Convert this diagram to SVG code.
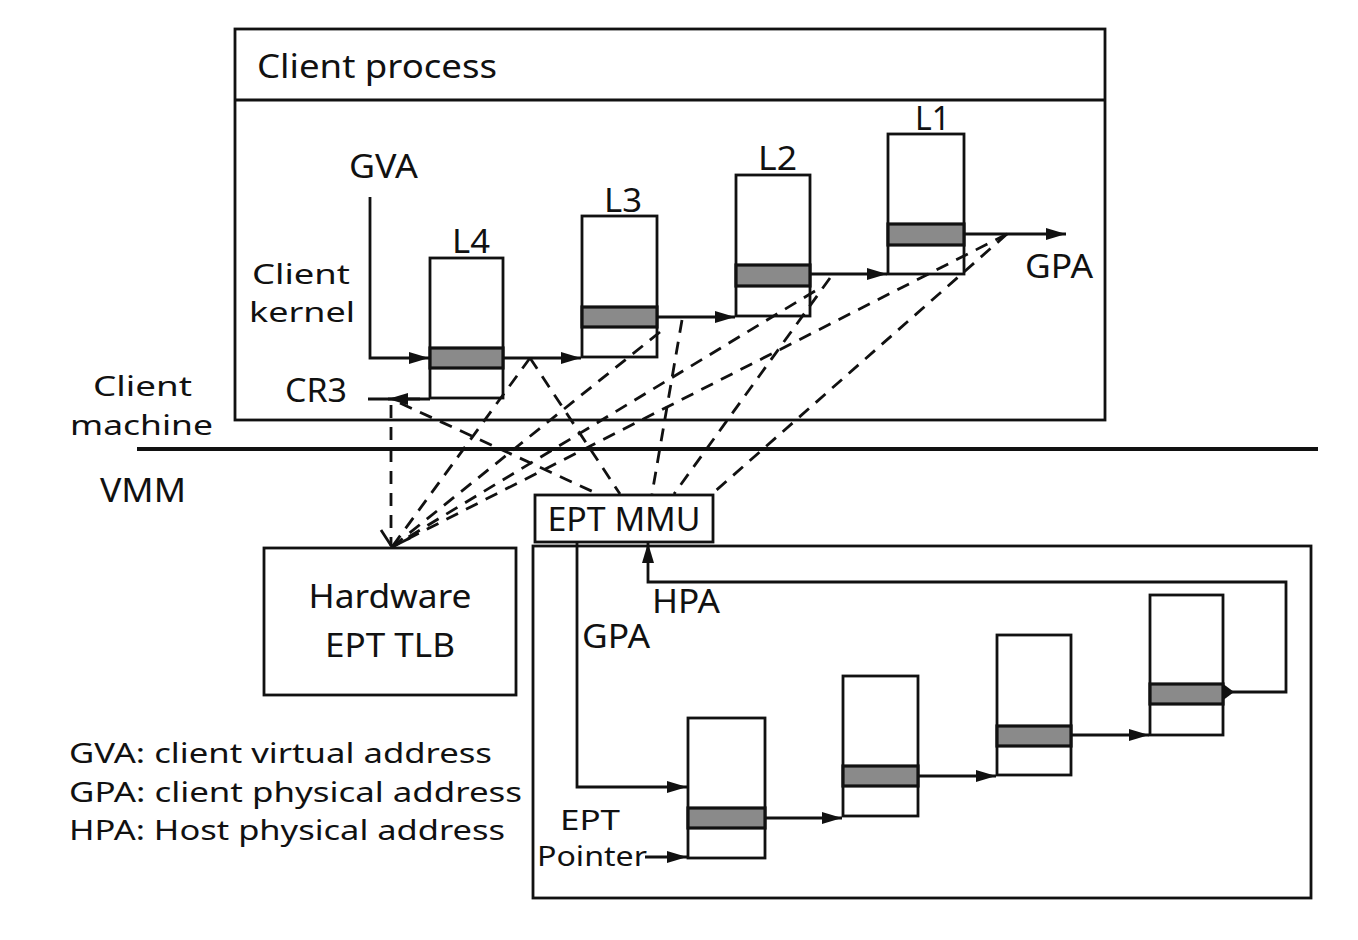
<svg xmlns="http://www.w3.org/2000/svg" width="1358" height="940" viewBox="0 0 1358 940">
<defs>
<marker id="ah" markerUnits="userSpaceOnUse" markerWidth="24" markerHeight="14" refX="20" refY="6" orient="auto">
<path d="M0,0 L20,6 L0,12 z" fill="#111"/>
</marker>
<style>
.t{font-family:"Noto Sans","DejaVu Sans",sans-serif;font-size:32px;fill:#111}
.s{font-size:28px}
.box{fill:#fff;stroke:#111;stroke-width:2.8}
.tbl{fill:#fff;stroke:#111;stroke-width:2.8}
.band{fill:#8a8a8a;stroke:#111;stroke-width:3.2}
.ln{fill:none;stroke:#111;stroke-width:2.8}
.ar{fill:none;stroke:#111;stroke-width:2.8;marker-end:url(#ah)}
.dash{fill:none;stroke:#111;stroke-width:2.8;stroke-dasharray:13 9}
</style>
</defs>
<rect width="1358" height="940" fill="#fff"/>

<g id="client-process">
<rect class="box" x="235" y="29" width="870" height="391"/>
<line class="ln" x1="235" y1="100" x2="1105" y2="100"/>
<text class="t" x="257" y="78" textLength="240" lengthAdjust="spacingAndGlyphs">Client process</text>
</g>

<g id="separator">
<line x1="137" y1="449" x2="1318" y2="449" stroke="#111" stroke-width="3.8"/>
<text class="t s" x="93" y="396" textLength="99" lengthAdjust="spacingAndGlyphs">Client</text>
<text class="t s" x="70" y="435" textLength="143" lengthAdjust="spacingAndGlyphs">machine</text>
<text class="t" x="100" y="502" textLength="86" lengthAdjust="spacingAndGlyphs">VMM</text>
</g>

<g id="labels-top">
<text class="t" x="349" y="178" textLength="69" lengthAdjust="spacingAndGlyphs">GVA</text>
<text class="t s" x="252" y="284" textLength="98" lengthAdjust="spacingAndGlyphs">Client</text>
<text class="t s" x="249" y="322" textLength="106" lengthAdjust="spacingAndGlyphs">kernel</text>
<text class="t" x="285" y="402" textLength="62" lengthAdjust="spacingAndGlyphs">CR3</text>
<text class="t" x="1025" y="278" textLength="68" lengthAdjust="spacingAndGlyphs">GPA</text>
</g>

<g id="L4">
<rect class="tbl" x="430" y="258" width="73" height="140"/>
<rect class="band" x="430" y="348" width="73" height="20"/>
<text class="t" x="452" y="253" textLength="38" lengthAdjust="spacingAndGlyphs">L4</text>
</g>
<g id="L3">
<rect class="tbl" x="582" y="216" width="75" height="141"/>
<rect class="band" x="582" y="307" width="75" height="20"/>
<text class="t" x="604" y="212" textLength="38" lengthAdjust="spacingAndGlyphs">L3</text>
</g>
<g id="L2">
<rect class="tbl" x="736" y="175" width="74" height="141"/>
<rect class="band" x="736" y="265" width="74" height="21"/>
<text class="t" x="758" y="170" textLength="39" lengthAdjust="spacingAndGlyphs">L2</text>
</g>
<g id="L1">
<rect class="tbl" x="888" y="134" width="76" height="140"/>
<rect class="band" x="888" y="224" width="76" height="21"/>
<text class="t" x="915" y="130" textLength="35" lengthAdjust="spacingAndGlyphs">L1</text>
</g>

<g id="tlb">
<rect class="box" x="264" y="548" width="252" height="147"/>
<text class="t" x="390" y="608" text-anchor="middle" textLength="163" lengthAdjust="spacingAndGlyphs">Hardware</text>
<text class="t" x="390" y="657" text-anchor="middle" textLength="130" lengthAdjust="spacingAndGlyphs">EPT TLB</text>
</g>

<g id="ept-region">
<rect class="box" x="533" y="546" width="778" height="352"/>
</g>

<g id="ept-mmu">
<rect class="box" x="535" y="495" width="178" height="47"/>
<text class="t" x="624" y="531" text-anchor="middle" textLength="153" lengthAdjust="spacingAndGlyphs">EPT MMU</text>
</g>

<g id="E1">
<rect class="tbl" x="688" y="718" width="77" height="140"/>
<rect class="band" x="688" y="808" width="77" height="20"/>
</g>
<g id="E2">
<rect class="tbl" x="843" y="676" width="75" height="140"/>
<rect class="band" x="843" y="766" width="75" height="20"/>
</g>
<g id="E3">
<rect class="tbl" x="997" y="635" width="74" height="140"/>
<rect class="band" x="997" y="726" width="74" height="20"/>
</g>
<g id="E4">
<rect class="tbl" x="1150" y="595" width="73" height="140"/>
<rect class="band" x="1150" y="684" width="73" height="20"/>
</g>

<g id="labels-bottom">
<text class="t" x="652" y="613" textLength="68" lengthAdjust="spacingAndGlyphs">HPA</text>
<text class="t" x="582" y="648" textLength="68" lengthAdjust="spacingAndGlyphs">GPA</text>
<text class="t s" x="560" y="830" textLength="60" lengthAdjust="spacingAndGlyphs">EPT</text>
<text class="t s" x="537" y="866" textLength="110" lengthAdjust="spacingAndGlyphs">Pointer</text>
</g>

<g id="legend">
<text class="t s" x="69" y="763" textLength="423" lengthAdjust="spacingAndGlyphs">GVA: client virtual address</text>
<text class="t s" x="69" y="802" textLength="453" lengthAdjust="spacingAndGlyphs">GPA: client physical address</text>
<text class="t s" x="69" y="840" textLength="436" lengthAdjust="spacingAndGlyphs">HPA: Host physical address</text>
</g>

<g id="connectors">
<polyline class="ar" points="370,197 370,358 429,358"/>
<line class="ar" x1="503" y1="358" x2="581" y2="358"/>
<line class="ar" x1="657" y1="317" x2="735" y2="317"/>
<line class="ar" x1="810" y1="274" x2="887" y2="274"/>
<line class="ar" x1="964" y1="234" x2="1066" y2="234"/>
<line class="ln" x1="368" y1="399" x2="430" y2="399"/>
<line class="ar" x1="420" y1="399" x2="388" y2="399"/>

<polyline class="ar" points="577,542 577,787 687,787"/>
<line class="ar" x1="645" y1="857" x2="687" y2="857"/>
<line class="ar" x1="765" y1="818" x2="842" y2="818"/>
<line class="ar" x1="918" y1="776" x2="996" y2="776"/>
<line class="ar" x1="1071" y1="735" x2="1149" y2="735"/>
<polyline class="ar" points="1223,692 1286,692 1286,582 648,582 648,543"/>
<path d="M1222,683 L1234,692 L1222,701 z" fill="#111"/>

<line class="dash" x1="391" y1="405" x2="391" y2="546"/>
<line class="dash" x1="530" y1="358" x2="392" y2="547"/>
<line class="dash" x1="660" y1="332" x2="392" y2="547"/>
<line class="dash" x1="815" y1="291" x2="392" y2="547"/>
<line class="dash" x1="1007" y1="234" x2="392" y2="547"/>
<line class="dash" x1="400" y1="403" x2="598" y2="494"/>
<line class="dash" x1="530" y1="358" x2="620" y2="494"/>
<line class="dash" x1="682" y1="320" x2="652" y2="494"/>
<line class="dash" x1="830" y1="278" x2="674" y2="494"/>
<line class="dash" x1="1007" y1="234" x2="712" y2="494"/>
<polyline class="ln" points="381,530 392,547 410,538"/>
</g>
</svg>
